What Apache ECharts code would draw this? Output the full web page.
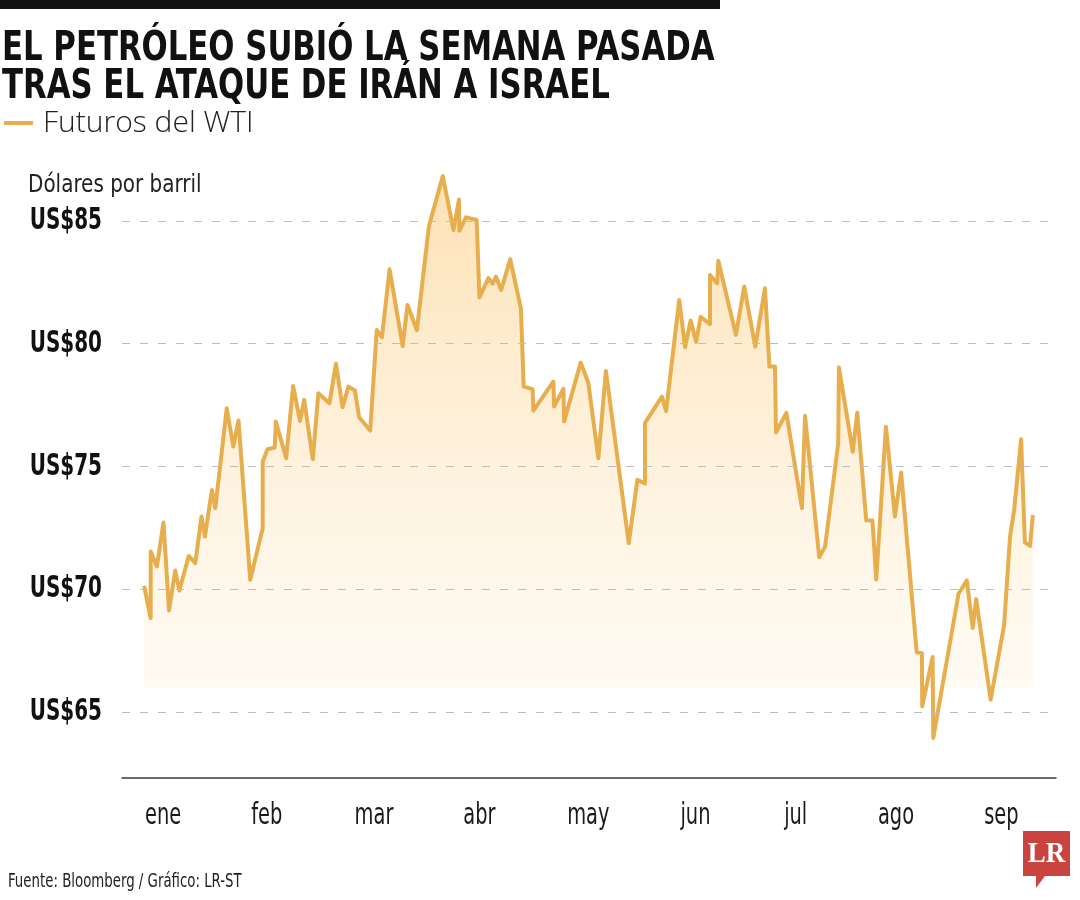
<!DOCTYPE html>
<html>
<head>
<meta charset="utf-8">
<script src="https://cdn.jsdelivr.net/npm/echarts@6/dist/echarts.min.js"></script>
<style>
  html, body { margin: 0; padding: 0; background: #ffffff; }
  #chart { width: 1080px; height: 900px; }
</style>
</head>
<body>
<div id="chart"></div>
<script>
// ---- Data ----
// x: approximate day of the year, y: WTI futures price (US$ per barrel)
const days = [
  9.5, 11.4, 11.4, 13.2, 15.1, 16.7, 18.5, 19.7, 22.4, 24.3, 26.1, 27.1, 29.1, 30.1,
  33.4, 35.3, 36.8, 40.2, 43.8, 43.8, 45.2, 47.3, 47.6, 50.6, 52.6, 54.6, 55.8, 58.3,
  59.9, 63.1, 65.0, 66.9, 68.6, 70.5, 71.7, 74.9, 76.8, 78.3, 80.5, 84.3, 85.7, 88.4,
  91.9, 95.9, 99.0, 100.6, 100.7, 102.6, 105.7, 106.5, 109.1, 110.3, 111.3, 112.8,
  115.4, 118.5, 119.3, 121.9, 122.1, 127.9, 128.1, 130.8, 131.0, 135.8, 138.0, 140.9,
  143.1, 149.7, 152.2, 154.4, 154.4, 159.3, 160.5, 164.3, 166.0, 167.6, 169.2, 170.5,
  173.2, 173.2, 175.3, 175.6, 180.7, 183.1, 186.3, 189.1, 190.4, 192.0, 192.3, 195.3,
  199.8, 200.7, 204.8, 206.5, 210.3, 210.5, 214.5, 215.8, 218.4, 220.2, 221.3, 224.1,
  226.7, 228.5, 233.0, 234.5, 234.6, 237.6, 237.8, 245.1, 247.5, 249.2, 250.2, 254.4,
  258.3, 260.0, 261.2, 263.2, 264.3, 265.8, 266.6
];
const prices = [
  70.13, 68.82, 71.53, 70.92, 72.71, 69.13, 70.76, 69.94, 71.35, 71.06, 72.96, 72.14, 74.04, 73.30,
  77.37, 75.81, 76.87, 70.38, 72.48, 75.20, 75.70, 75.77, 76.83, 75.33, 78.28, 76.85, 77.71, 75.29,
  77.98, 77.57, 79.18, 77.41, 78.25, 78.09, 77.00, 76.46, 80.56, 80.26, 83.03, 79.91, 81.58, 80.55,
  84.80, 86.83, 84.63, 85.88, 84.60, 85.15, 85.04, 81.89, 82.67, 82.45, 82.73, 82.19,
  83.44, 81.44, 78.25, 78.15, 77.27, 78.45, 77.44, 78.16, 76.83, 79.23, 78.41, 75.33,
  78.89, 71.87, 74.45, 74.30, 76.77, 77.84, 77.25, 81.78, 79.86, 80.94, 80.08, 81.10,
  80.80, 82.80, 82.46, 83.38, 80.36, 82.33, 79.88, 82.26, 79.07, 79.07, 76.38, 77.18,
  73.30, 77.06, 71.30, 71.73, 75.94, 79.04, 75.60, 77.19, 72.80, 72.79, 70.39, 76.62,
  72.96, 74.75, 67.42, 67.39, 65.22, 67.23, 63.93, 69.81, 70.35, 68.41, 69.59, 65.49,
  68.54, 72.14, 73.23, 76.11, 71.90, 71.76, 73.02
];
const monthLabels = ['ene', 'feb', 'mar', 'abr', 'may', 'jun', 'jul', 'ago', 'sep'];
const monthPos = [15, 45, 76, 106.5, 138, 169, 198, 227, 257.5];
const yTicks = [65, 70, 75, 80, 85];
const seriesName = 'Futuros del WTI';

// ---- Chart ----
const COND = "'Liberation Sans Narrow', 'DejaVu Sans Condensed', sans-serif";
const chart = echarts.init(document.getElementById('chart'), null, { renderer: 'canvas' });
const lineColor = '#E7AE4D';
const X_MIN = 3.1, X_MAX = 273.3, Y_MIN = 62.3, Y_MAX = 88;

const staticGraphics = [
  { type: 'rect', x: 0, y: 0, shape: { width: 720, height: 9 }, style: { fill: '#111111' } },
  {
    type: 'text', x: 2, y: 30, scaleX: 0.855,
    style: {
      text: 'EL PETRÓLEO SUBIÓ LA SEMANA PASADA\nTRAS EL ATAQUE DE IRÁN A ISRAEL',
      font: "bold 40px " + COND, lineHeight: 38.5, fill: '#111111',
      align: 'left', verticalAlign: 'top', textAlign: 'left', textVerticalAlign: 'top'
    }
  },
  {
    type: 'text', x: 28, y: 185.7, scaleX: 0.925,
    style: {
      text: 'Dólares por barril', font: "24px " + COND, fill: '#222222',
      align: 'left', verticalAlign: 'middle', textAlign: 'left', textVerticalAlign: 'middle'
    }
  },
  {
    type: 'text', x: 8, y: 882.4, scaleX: 0.78,
    style: {
      text: 'Fuente: Bloomberg / Gráfico: LR-ST', font: "19px " + COND, fill: '#222222',
      align: 'left', verticalAlign: 'middle', textAlign: 'left', textVerticalAlign: 'middle'
    }
  },
  {
    type: 'group', x: 1023, y: 831,
    children: [
      { type: 'polygon', shape: { points: [[0, 0], [47, 0], [47, 45], [22, 45], [13, 57], [13, 45], [0, 45]] }, style: { fill: '#C9443E' } },
      {
        type: 'text', x: 23.5, y: 23, scaleX: 0.9,
        style: {
          text: 'LR', font: "bold 30px 'Liberation Serif', 'DejaVu Serif', serif", fill: '#ffffff',
          align: 'center', verticalAlign: 'middle', textAlign: 'center', textVerticalAlign: 'middle'
        }
      }
    ]
  }
];

const option = {
  backgroundColor: '#ffffff',
  animation: false,
  legend: {
    data: [seriesName],
    left: 4,
    top: 108,
    padding: 0,
    icon: 'rect',
    itemWidth: 29,
    itemHeight: 4,
    textStyle: {
      fontFamily: "'Open Sans', 'Noto Sans', sans-serif",
      fontWeight: 300,
      fontSize: 30,
      color: '#222222',
      padding: [0, 0, 0, 5]
    }
  },
  grid: { left: 122, right: 24, top: 147.4, bottom: 122, containLabel: false },
  xAxis: {
    type: 'value',
    min: X_MIN,
    max: X_MAX,
    axisLine: { show: true, lineStyle: { color: '#3a3a3a', width: 1.5 } },
    axisTick: { show: false },
    splitLine: { show: false },
    axisLabel: { show: false }
  },
  yAxis: {
    type: 'value',
    min: Y_MIN,
    max: Y_MAX,
    axisLine: { show: false },
    axisTick: { show: false },
    splitLine: { show: false },
    axisLabel: { show: false }
  },
  series: [{
    name: seriesName,
    type: 'line',
    data: days.map((d, i) => [d, prices[i]]),
    showSymbol: false,
    symbol: 'none',
    color: lineColor,
    lineStyle: { color: lineColor, width: 4, join: 'round' },
    areaStyle: {
      origin: 66,
      color: new echarts.graphic.LinearGradient(0, 0, 0, 1, [
        { offset: 0, color: 'rgba(252, 208, 135, 0.9)' },
        { offset: 1, color: 'rgba(254, 238, 212, 0.3)' }
      ])
    },
    markLine: {
      silent: true,
      symbol: ['none', 'none'],
      label: { show: false },
      lineStyle: { type: [8, 10], color: '#bdbdbd', width: 1.2 },
      data: yTicks.map(v => ({ yAxis: v }))
    },
    z: 3
  }],
  graphic: staticGraphics
};
chart.setOption(option);

// Axis labels drawn as condensed text, positioned through the chart's own scales
const labelGraphics = [];
yTicks.forEach(v => {
  const p = chart.convertToPixel({ gridIndex: 0 }, [X_MIN, v]);
  labelGraphics.push({
    type: 'text', x: p[0] - 20, y: p[1] + 0.5, scaleX: 0.74,
    style: {
      text: 'US$' + v, font: "bold 30px " + COND, fill: '#111111',
      align: 'right', verticalAlign: 'middle', textAlign: 'right', textVerticalAlign: 'middle'
    }
  });
});
monthPos.forEach((d, i) => {
  const p = chart.convertToPixel({ gridIndex: 0 }, [d, Y_MIN]);
  labelGraphics.push({
    type: 'text', x: p[0], y: p[1] + 38.5, scaleX: 0.72,
    style: {
      text: monthLabels[i], font: "30px " + COND, fill: '#1a1a1a',
      align: 'center', verticalAlign: 'middle', textAlign: 'center', textVerticalAlign: 'middle'
    }
  });
});
chart.setOption({ graphic: staticGraphics.concat(labelGraphics) });
</script>
</body>
</html>
